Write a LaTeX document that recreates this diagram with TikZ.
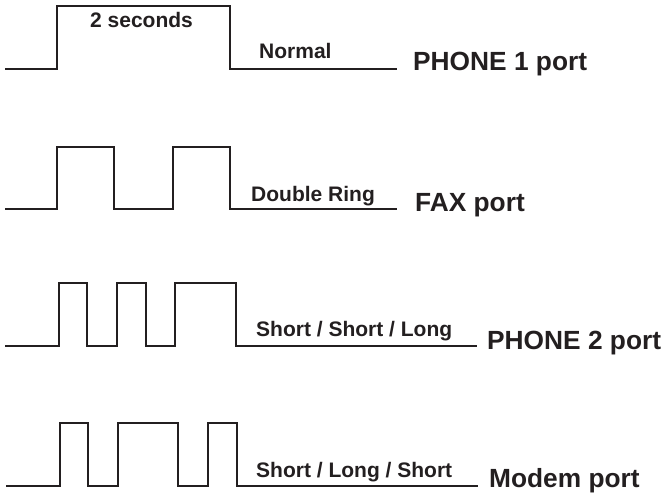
\documentclass[tikz,border=0pt]{standalone}
\usepackage{fontspec}
\setmainfont{Liberation Sans}
\begin{document}
\begin{tikzpicture}[x=1pt,y=-1pt,
  wave/.style={draw=ink,line width=2pt,line join=miter},
  lbl/.style={inner sep=0pt,anchor=base west,text=ink,font=\bfseries\fontsize{21}{24}\selectfont},
  port/.style={inner sep=0pt,anchor=base west,text=ink,font=\bfseries\fontsize{26.3}{30}\selectfont}]
\definecolor{ink}{HTML}{231F20}
\useasboundingbox (0,0) rectangle (665,494);
% PHONE 1
\draw[wave] (5,69) -- (57,69) -- (57,6) -- (230,6) -- (230,69) -- (397,69);
\node[lbl] (sec) at (90,28) {2 seconds};
\node[lbl] (normal) at (259,59) {Normal};
\node[port] (p1) at (413,71) {PHONE 1 port};
% FAX
\draw[wave] (5,209) -- (57,209) -- (57,147) -- (114,147) -- (114,209) -- (173,209) -- (173,147) -- (230,147) -- (230,209) -- (397,209);
\node[lbl] (dbl) at (251,202) {Double Ring};
\node[port] (fax) at (415,212) {FAX port};
% PHONE 2
\draw[wave] (5,346) -- (59,346) -- (59,283) -- (87,283) -- (87,346) -- (117,346) -- (117,283) -- (146,283) -- (146,346) -- (175,346) -- (175,283) -- (236,283) -- (236,346) -- (477,346);
\node[lbl] (ssl) at (256,337) {Short / Short / Long};
\node[port] (p2) at (487,350) {PHONE 2 port};
% Modem
\draw[wave] (6,486) -- (60,486) -- (60,423) -- (88,423) -- (88,486) -- (118,486) -- (118,423) -- (178,423) -- (178,486) -- (208,486) -- (208,423) -- (237,423) -- (237,486) -- (478,486);
\node[lbl] (sls) at (256,478) {Short / Long / Short};
\node[port] (modem) at (489,488) {Modem port};
\end{tikzpicture}
\end{document}
